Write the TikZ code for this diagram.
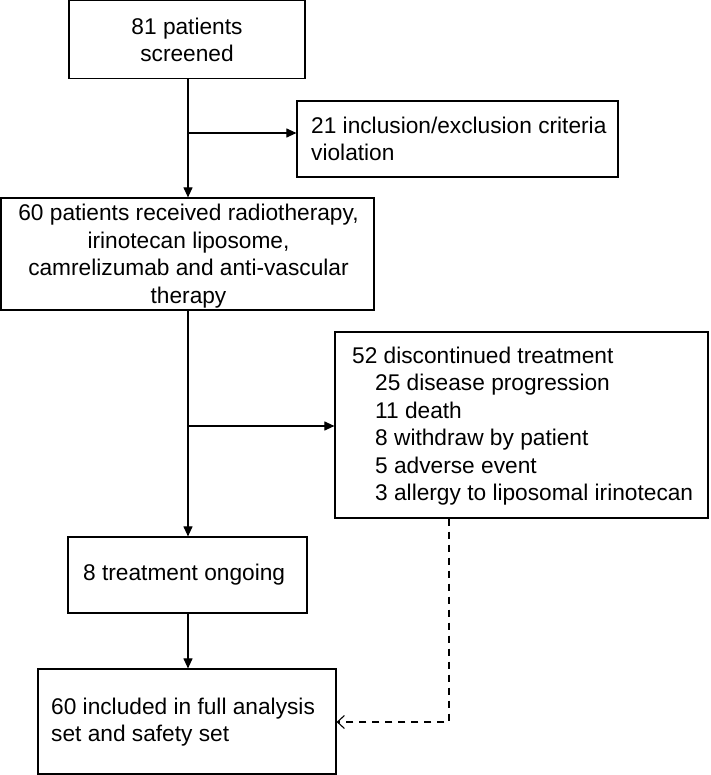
\documentclass[tikz,border=0pt]{standalone}
\usepackage{fontspec}
\setmainfont{Liberation Sans}
\usetikzlibrary{arrows.meta}
\begin{document}
\begin{tikzpicture}[x=1pt,y=-1pt,
  box/.style={draw, line width=1.2pt, inner sep=0pt},
  txt/.style={inner sep=0pt, font=\fontsize{22.7}{27.5}\selectfont},
  arr/.style={line width=1.1pt, -{Triangle[length=10pt,width=9pt]}},
  dasharr/.style={line width=1.1pt, dash pattern=on 7pt off 6pt, -{Straight Barb[length=7pt,width=13pt]}}]
\useasboundingbox (0,0) rectangle (710,775);
% boxes
\node[box, minimum width=236pt, minimum height=78pt] (b1) at (187,39.5) {};
\node[box, minimum width=321pt, minimum height=76pt] (b2) at (457.5,139) {};
\node[box, minimum width=373pt, minimum height=112pt] (b3) at (187.5,254) {};
\node[box, minimum width=373pt, minimum height=186pt] (b4) at (521.5,425) {};
\node[box, minimum width=239pt, minimum height=76pt] (b5) at (187.5,575) {};
\node[box, minimum width=298pt, minimum height=105pt] (b6) at (187,721.5) {};
% texts
\node[txt, align=center] (t1) at (187,40) {81 patients\\screened};
\node[txt, align=left, anchor=west] (t2) at (311,139) {21 inclusion/exclusion criteria\\violation};
\node[txt, align=center] (t3) at (188.5,256) {60 patients received radiotherapy,\\irinotecan liposome,\\camrelizumab and anti-vascular\\therapy};
\node[txt, align=left, anchor=west] (t4) at (352,426) {52 discontinued treatment\\
\hspace*{23pt}25 disease progression\\
\hspace*{23pt}11 death\\
\hspace*{23pt}8 withdraw by patient\\
\hspace*{23pt}5 adverse event\\
\hspace*{23pt}3 allergy to liposomal irinotecan};
\node[txt, align=left, anchor=west] (t5) at (83,575) {8 treatment ongoing};
\node[txt, align=left, anchor=west] (t6) at (51,722) {60 included in full analysis\\set and safety set};
% connectors
\coordinate (j1) at (188,133);
\coordinate (j2) at (188,426);
\coordinate (d1) at (449,722);
\draw[arr] (b1.south -| j1) -- (b3.north -| j1);
\draw[arr] (j1) -- (j1 -| b2.west);
\draw[arr] (b3.south -| j2) -- (b5.north -| j2);
\draw[arr] (j2) -- (j2 -| b4.west);
\draw[arr] (b5.south -| j2) -- (b6.north -| j2);
\draw[dasharr] (b4.south -| d1) -- (d1) -- (d1 -| b6.east);
\end{tikzpicture}
\end{document}
